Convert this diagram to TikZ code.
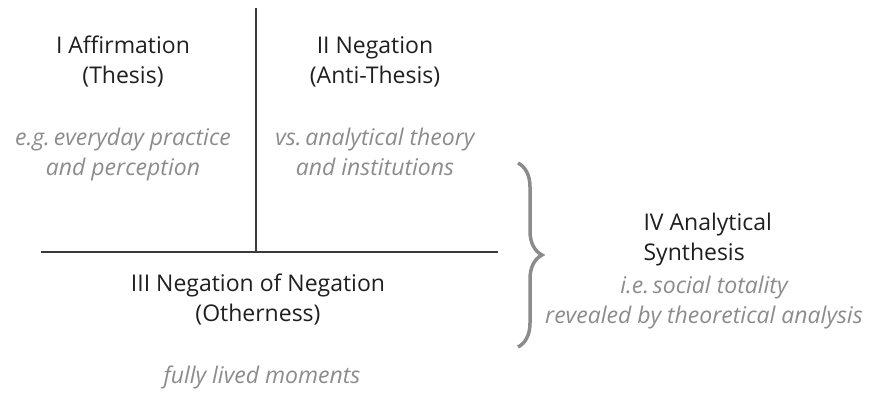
\documentclass[tikz,border=0pt]{standalone}
\usepackage{fontspec}
\setmainfont{Open Sans}
\usetikzlibrary{decorations.pathreplacing}
\definecolor{notegray}{HTML}{8C8C8C}
\definecolor{linegray}{HTML}{3A3A3A}
\tikzset{
  head/.style={align=center, text=black!88, anchor=base,
    font=\fontsize{23}{30}\selectfont},
  note/.style={align=center, text=notegray, anchor=base,
    font=\fontsize{23}{30}\selectfont\itshape},
  axis/.style={linegray, line width=1.3pt},
  bracket/.style={notegray, line width=3.5pt, decorate,
    decoration={brace, amplitude=24pt}}
}
\begin{document}
\begin{tikzpicture}[x=1pt,y=-1pt]
\useasboundingbox (0,0) rectangle (883,392);

% Kreuz
\coordinate (top) at (256,8);
\coordinate (cross) at (256,252);
\coordinate (left) at (41,252);
\coordinate (right) at (498,252);
\draw[axis] (top) -- (cross);
\draw[axis] (left) -- (right);

% Quadranten
\node[head] (aff) at (123,83) {I Affirmation\\(Thesis)};
\node[note] (affnote) at (123,175) {e.g.\,everyday practice\\and perception};
\node[head] (neg) at (375,83) {II Negation\\(Anti-Thesis)};
\node[note] (negnote) at (375,175) {vs.\,analytical theory\\and institutions};
\node[head] (negneg) at (258,321) {III Negation of Negation\\(Otherness)};
\node[note] (negnegnote) at (262,383) {fully lived moments};

% Synthese
\coordinate (btop) at (518,163);
\coordinate (bbot) at (518,347);
\draw[bracket] (btop) -- (bbot);
\node[head, align=left, anchor=base west] (syn) at (640,260) {IV Analytical\\Synthesis};
\node[note] (synnote) at (704,323) {i.e.\,social totality\\revealed by theoretical analysis};

\end{tikzpicture}
\end{document}
